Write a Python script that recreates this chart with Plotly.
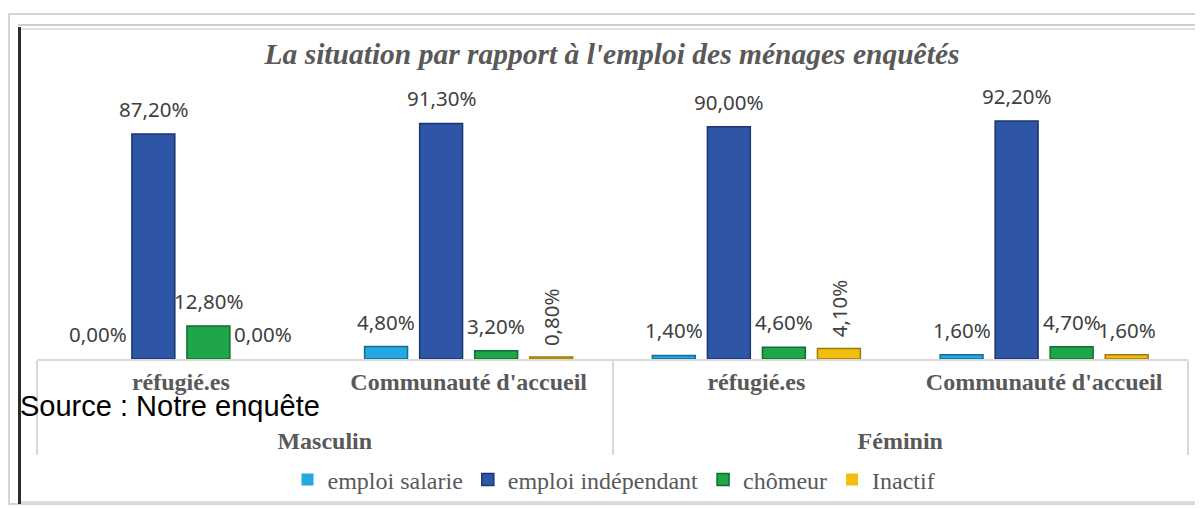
import plotly.graph_objects as go

# ---- data ----
genders = ["Masculin", "Masculin", "Féminin", "Féminin"]
groups = ["réfugié.es", "Communauté d'accueil", "réfugié.es", "Communauté d'accueil"]
series_names = ["emploi salarie", "emploi indépendant", "chômeur", "Inactif"]
emploi_salarie = [0.0, 4.8, 1.4, 1.6]
emploi_independant = [87.2, 91.3, 90.0, 92.2]
chomeur = [12.8, 3.2, 4.6, 4.7]
inactif = [0.0, 0.8, 4.1, 1.6]
title_text = "La situation par rapport à l'emploi des ménages enquêtés"
source_text = "Source : Notre enquête"

values = [emploi_salarie, emploi_independant, chomeur, inactif]
colors = ["#25A7DF", "#2F56A6", "#1FA64A", "#F2BF10"]
edge_colors = ["#156E99", "#1B3570", "#0E6E31", "#9C7A08"]
rotated_labels = {(3, 1), (3, 2)}  # (series, category) labels drawn vertically

# page has an 8px body margin; geometry below is in page pixels
OFF = 8
W, H = 1203 - OFF, 509 - OFF
PLOT_X0, PLOT_X1 = 37, 1188
PLOT_Y0, PLOT_Y1 = 70, 359
L = PLOT_X0 - OFF
R = W - (PLOT_X1 - OFF)
T = PLOT_Y0 - OFF
B = H - (PLOT_Y1 - OFF)
PW, PH = W - L - R, H - T - B
YMAX = 112.0
BARGAP = 0.235
GROUPGAP = 0.22


def px(x):
    return (x - OFF - L) / PW


def py(y):
    return (H - B - (y - OFF)) / PH


# secondary level pushed down one line to match the reference spacing
gender_display = ["<br>" + g for g in genders]

fig = go.Figure()
for i, name in enumerate(series_names):
    fig.add_trace(go.Bar(
        x=[gender_display, groups],
        y=values[i],
        name=name,
        marker=dict(color=colors[i],
                    line=dict(color=edge_colors[i],
                              width=[0 if v == 0 else 1.5 for v in values[i]])),
        hoverinfo="skip",
    ))

annotations = []
slot = (1 - BARGAP) / len(series_names)
for i in range(len(series_names)):
    for j, v in enumerate(values[i]):
        off = (i - (len(series_names) - 1) / 2) * slot
        txt = f"{v:.2f}%".replace(".", ",")
        rot = (i, j) in rotated_labels
        annotations.append(dict(
            x=j + off, y=v, xref="x", yref="y",
            text=txt, showarrow=False,
            yanchor="bottom", xanchor="center",
            yshift=9, textangle=-90 if rot else 0,
            font=dict(family="Noto Sans", size=20.5, color="#404040"),
        ))

annotations.append(dict(
    x=px(18), y=py(406), xref="paper", yref="paper",
    xanchor="left", yanchor="middle", showarrow=False,
    text=source_text,
    font=dict(family="Liberation Sans", size=29, color="#000000"),
))

shapes = [
    # outer light frame
    dict(type="rect", xref="paper", yref="paper",
         x0=px(9), x1=px(1202), y0=py(14), y1=py(504),
         line=dict(color="#d6d6d6", width=2), fillcolor="rgba(0,0,0,0)", layer="below"),
    # inner double top line
    dict(type="line", xref="paper", yref="paper",
         x0=px(18), x1=px(1203), y0=py(25), y1=py(25),
         line=dict(color="#cfcfcf", width=2)),
    dict(type="line", xref="paper", yref="paper",
         x0=px(18), x1=px(1203), y0=py(29), y1=py(29),
         line=dict(color="#d9d9d9", width=1.5)),
    # right faint edge
    dict(type="line", xref="paper", yref="paper",
         x0=px(1200), x1=px(1200), y0=py(29), y1=py(502),
         line=dict(color="#eeeeee", width=1)),
    # bottom inner line
    dict(type="line", xref="paper", yref="paper",
         x0=px(18), x1=px(1203), y0=py(502), y1=py(502),
         line=dict(color="#dddddd", width=2)),
    # left dark edge
    dict(type="line", xref="paper", yref="paper",
         x0=px(19.5), x1=px(19.5), y0=py(27), y1=py(504),
         line=dict(color="#2b2b2b", width=3)),
]

fig.update_layout(
    width=W, height=H,
    margin=dict(l=L, r=R, t=T, b=B, autoexpand=False),
    paper_bgcolor="white", plot_bgcolor="white",
    barmode="group", bargap=BARGAP, bargroupgap=GROUPGAP,
    title=dict(
        text=title_text, x=px(612), xref="paper", xanchor="center",
        y=1 - (54 - OFF) / H, yanchor="middle",
        font=dict(family="Liberation Serif", size=29.5, color="#595959",
                  weight="bold", style="italic"),
    ),
    xaxis=dict(
        type="multicategory",
        showline=True, linecolor="#d9d9d9", linewidth=1.5,
        showdividers=True, dividercolor="#d9d9d9", dividerwidth=1.5,
        tickfont=dict(family="Liberation Serif", size=24, color="#595959", weight="bold"),
        ticks="", showgrid=False,
    ),
    yaxis=dict(range=[0, YMAX], visible=False, showgrid=False, zeroline=False),
    legend=dict(
        orientation="h", x=px(614), xanchor="center", y=py(480), yanchor="middle",
        font=dict(family="Liberation Serif", size=24, color="#595959"),
        itemwidth=30, traceorder="normal", bgcolor="rgba(0,0,0,0)",
    ),
    showlegend=True,
    annotations=annotations,
    shapes=shapes,
)

fig.write_html("out.html")
